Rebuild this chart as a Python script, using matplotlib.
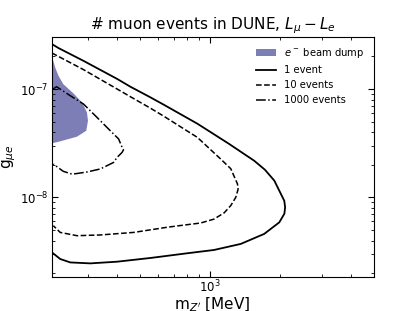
import numpy as np
import matplotlib
matplotlib.use("Agg")
import matplotlib.pyplot as plt

# contour data (m_Z' in MeV, g_mu_e)
m_1ev = [211, 225, 288, 401, 457, 557, 635, 883, 1203, 1545, 1717, 1883, 2078,
         2095, 2080, 1978, 1705, 1354, 1040, 800, 557, 401, 308, 253, 229, 211]
g_1ev = [2.60e-7, 2.39e-7, 1.82e-7, 1.24e-7, 1.05e-7, 8.37e-8, 7.16e-8, 4.79e-8,
         3.13e-8, 2.18e-8, 1.80e-8, 1.43e-8, 9.3e-9, 8.1e-9, 7.07e-9, 5.88e-9,
         4.60e-9, 3.72e-9, 3.27e-9, 3.05e-9, 2.76e-9, 2.55e-9, 2.46e-9, 2.51e-9,
         2.70e-9, 3.11e-9]

m_10ev = [211, 229, 288, 401, 457, 557, 635, 883, 1111, 1227, 1311, 1319,
          1289, 1227, 1150, 1040, 912, 749, 656, 472, 340, 270, 229, 214]
g_10ev = [2.15e-7, 1.96e-7, 1.51e-7, 1.0e-7, 8.49e-8, 6.65e-8, 5.61e-8, 3.58e-8,
          2.26e-8, 1.84e-8, 1.33e-8, 1.19e-8, 1.0e-8, 8.4e-9, 7.2e-9, 6.3e-9,
          5.8e-9, 5.5e-9, 5.3e-9, 4.75e-9, 4.5e-9, 4.43e-9, 4.75e-9, 5.48e-9]

m_1000ev = [213, 221, 253, 288, 329, 375, 407, 421, 427, 421, 401, 387,
            340, 300, 270, 257, 236, 214]
g_1000ev = [1.0e-7, 1.05e-7, 8.67e-8, 7.27e-8, 5.47e-8, 4.12e-8, 3.46e-8, 2.9e-8,
            2.75e-8, 2.6e-8, 2.34e-8, 2.10e-8, 1.83e-8, 1.72e-8, 1.66e-8, 1.64e-8,
            1.74e-8, 2.03e-8]

# e- beam dump excluded region
m_bd = [211, 214, 218, 225, 236, 261, 284, 298, 301, 296, 270, 229, 211]
g_bd = [1.85e-7, 1.82e-7, 1.58e-7, 1.33e-7, 1.11e-7, 9.11e-8, 7.52e-8, 6.08e-8,
        5.10e-8, 4.12e-8, 3.63e-8, 3.29e-8, 3.15e-8]

fig, ax = plt.subplots(figsize=(4.15, 3.11), dpi=100)

ax.fill(m_bd, g_bd, color="#7e7eb6", lw=0, label=r"$e^-$ beam dump")
ax.plot(m_1ev, g_1ev, "k-", lw=1.3, label="1 event")
ax.plot(m_10ev, g_10ev, "k--", lw=1.1, label="10 events")
ax.plot(m_1000ev, g_1000ev, "k-.", lw=1.1, label="1000 events")

ax.set_xscale("log")
ax.set_yscale("log")
ax.set_xlim(211, 5000)
ax.set_ylim(1.85e-9, 3e-7)

ax.tick_params(which="both", direction="in", top=True, right=True,
               labelsize=8.5, pad=2.5)
ax.tick_params(axis="x", which="both", pad=1.5)
ax.tick_params(which="major", length=4)
ax.tick_params(which="minor", length=2)

ax.set_xlabel(r"m$_{Z'}$ [MeV]", fontsize=11, labelpad=0)
ax.set_ylabel(r"g$_{\mu e}$", fontsize=11, labelpad=1)
ax.set_title(r"# muon events in DUNE, $L_\mu - L_e$", fontsize=11)

ax.legend(loc="upper right", frameon=False, fontsize=7.2)

fig.savefig("out.png", dpi=100)
